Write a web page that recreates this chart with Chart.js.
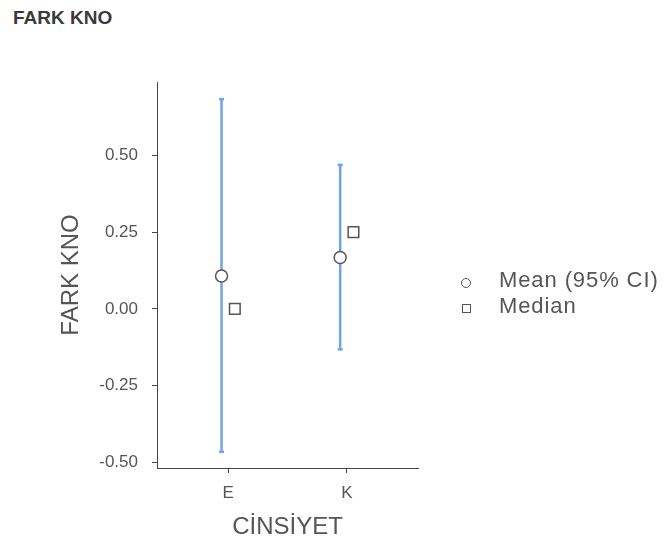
<!DOCTYPE html>
<html>
<head>
<meta charset="utf-8">
<script src="https://cdn.jsdelivr.net/npm/chart.js@4"></script>
<style>
  body { margin: 0; background: #fff; }
  #wrap { position: relative; width: 667px; height: 544px; }
  #chart { position: absolute; left: 0; top: 0; }
  .title { position: absolute; left: 13px; top: 8px; font: bold 19px 'Liberation Sans', Arial, sans-serif; line-height: 1; color: #3a3a3a; }
  .leg { position: absolute; left: 499px; font: 22px 'Liberation Sans', Arial, sans-serif; line-height: 1; color: #555; letter-spacing: 0.9px; white-space: nowrap; }
  .sym { position: absolute; border: 1px solid #555; background: #fff; box-sizing: border-box; }
</style>
</head>
<body>
<div id="wrap">
  <div class="title">FARK KNO</div>
  <canvas id="chart" width="667" height="544"></canvas>
  <div class="sym" style="left:461px; top:278px; width:10px; height:10px; border-radius:50%;"></div>
  <div class="leg" id="leg0" style="top:269px;"></div>
  <div class="sym" style="left:462px; top:304px; width:9px; height:9px;"></div>
  <div class="leg" id="leg1" style="top:295px;"></div>
</div>
<script>
// values
const categories = ['E', 'K'];
const meanValues = [0.107, 0.167];
const ciLower = [-0.466, -0.132];
const ciUpper = [0.683, 0.469];
const medianValues = [0.0, 0.25];
const yTicks = [-0.5, -0.25, 0, 0.25, 0.5];
const legendLabels = ['Mean (95% CI)', 'Median'];

const dodge = 0.056;
const font = "'Liberation Sans', Arial, sans-serif";
const barColor = '#72a3ea';

document.getElementById('leg0').textContent = legendLabels[0];
document.getElementById('leg1').textContent = legendLabels[1];

const errorBars = categories.map((c, i) => ({
  label: 'CI ' + c,
  showLine: true,
  data: [{ x: i - dodge, y: ciLower[i] }, { x: i - dodge, y: ciUpper[i] }],
  borderColor: barColor,
  borderWidth: 2.5,
  pointStyle: 'line',
  pointRadius: 2.5,
  pointBorderWidth: 2.5,
  pointBorderColor: barColor,
  order: 3
}));

const ctx = document.getElementById('chart').getContext('2d');
const chart = new Chart(ctx, {
  type: 'scatter',
  data: {
    datasets: [
      {
        label: legendLabels[0],
        data: meanValues.map((v, i) => ({ x: i - dodge, y: v })),
        pointStyle: 'circle',
        pointRadius: 6,
        pointBorderWidth: 1.5,
        pointBorderColor: '#555',
        pointBackgroundColor: '#fff',
        order: 1
      },
      {
        label: legendLabels[1],
        data: medianValues.map((v, i) => ({ x: i + dodge, y: v })),
        pointStyle: 'rect',
        pointRadius: 7.5,
        pointBorderWidth: 1.5,
        pointBorderColor: '#555',
        pointBackgroundColor: '#fff',
        order: 2
      },
      ...errorBars
    ]
  },
  options: {
    responsive: false,
    animation: false,
    devicePixelRatio: 1,
    layout: { padding: { left: 50, top: 82, right: 249, bottom: 0 } },
    plugins: { legend: { display: false }, tooltip: { enabled: false } },
    scales: {
      x: {
        type: 'linear',
        min: -0.6,
        max: 1.6,
        afterBuildTicks: (s) => { s.ticks = categories.map((c, i) => ({ value: i })); },
        afterFit: (s) => { s.height = 76; },
        ticks: {
          callback: (v) => categories[v],
          font: { family: font, size: 17 },
          color: '#555',
          padding: 10,
          maxRotation: 0,
          autoSkip: false
        },
        grid: { drawOnChartArea: false, drawTicks: true, tickLength: 5, color: '#444' },
        border: { color: '#444', width: 1 },
        title: {
          display: true,
          text: 'CİNSİYET',
          font: { family: font, size: 24 },
          color: '#555',
          padding: { top: 0, bottom: 2 }
        }
      },
      y: {
        min: -0.5186,
        max: 0.739,
        afterBuildTicks: (s) => { s.ticks = yTicks.map((v) => ({ value: v })); },
        afterFit: (s) => { s.width = 107; },
        ticks: {
          callback: (v) => v.toFixed(2),
          font: { family: font, size: 17 },
          color: '#555',
          padding: 14
        },
        grid: { drawOnChartArea: false, drawTicks: true, tickLength: 5, color: '#444' },
        border: { color: '#444', width: 1 },
        title: {
          display: true,
          text: 'FARK KNO',
          font: { family: font, size: 24 },
          color: '#555',
          padding: { top: 7, bottom: 0 }
        }
      }
    }
  }
});
</script>
</body>
</html>
